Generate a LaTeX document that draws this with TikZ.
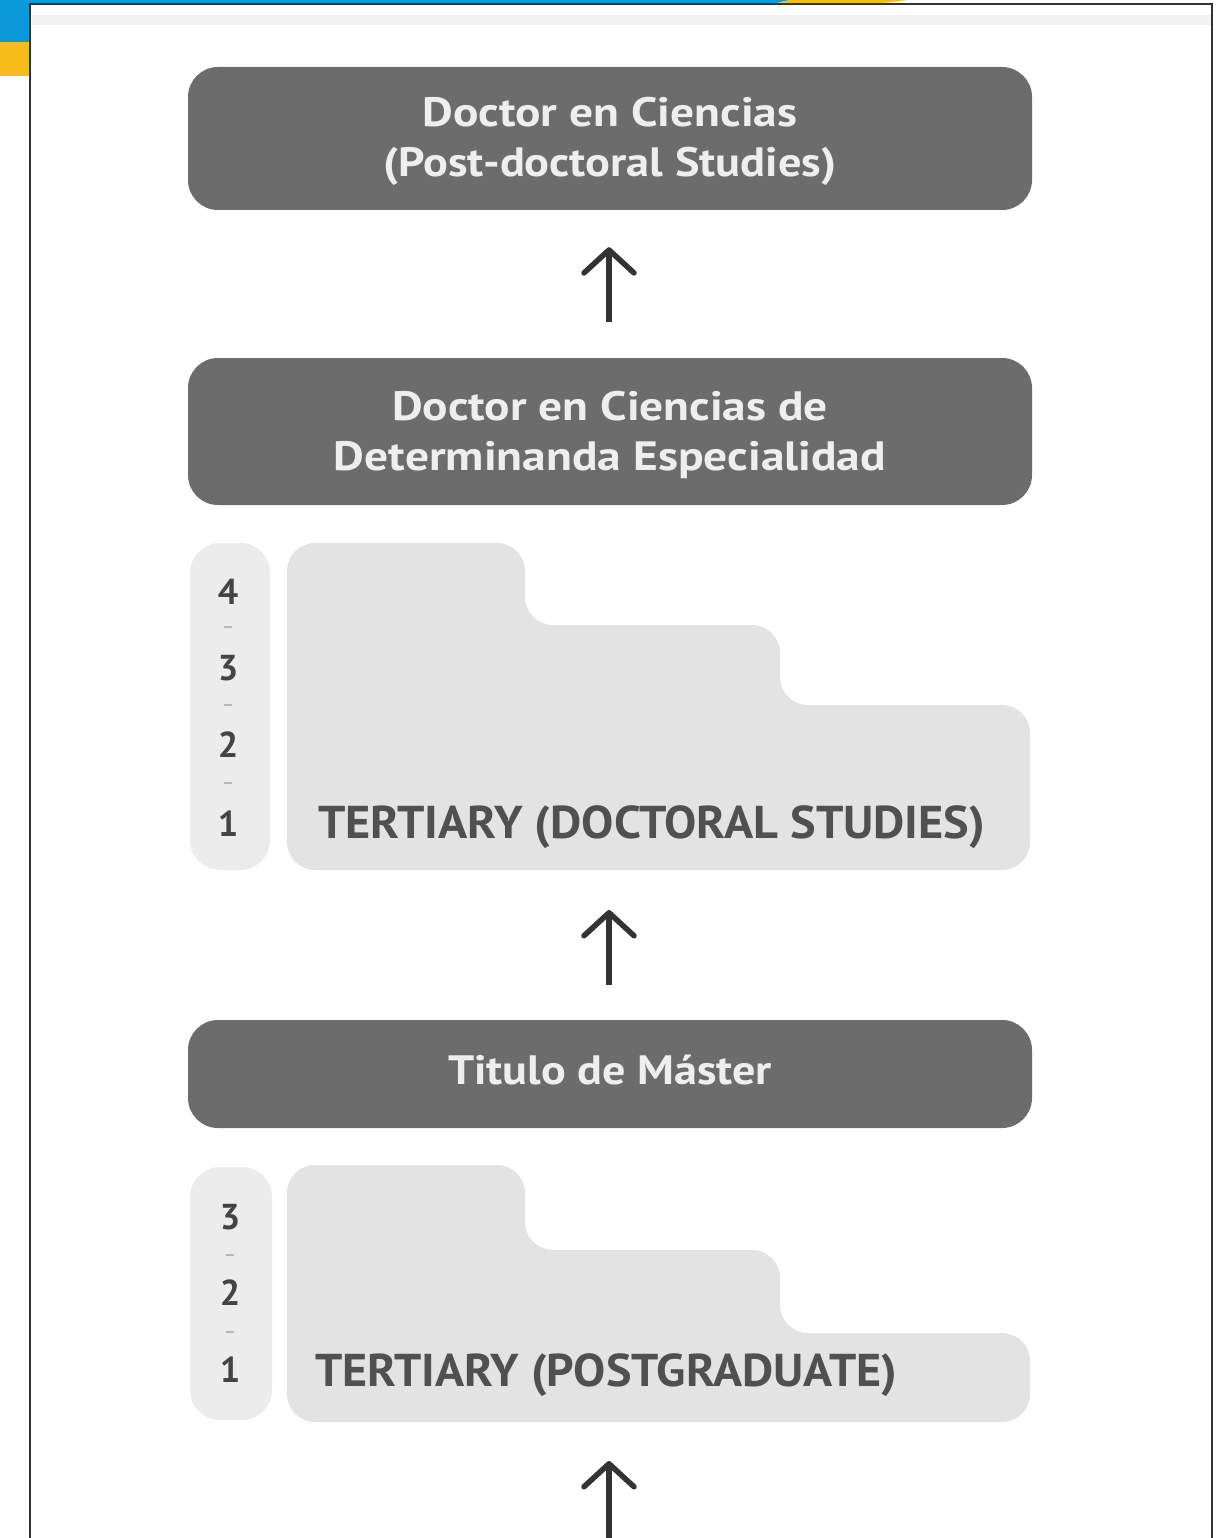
\documentclass[tikz,border=0pt]{standalone}
\usepackage{fontspec}
\setmainfont{PT Sans}
\usetikzlibrary{arrows.meta}
\definecolor{darkboxc}{HTML}{6C6C6C}
\definecolor{boxtextc}{HTML}{EEEEEE}
\definecolor{stepfillc}{HTML}{E3E3E3}
\definecolor{pillfillc}{HTML}{ECECEC}
\definecolor{steptextc}{HTML}{505050}
\definecolor{numtextc}{HTML}{444444}
\definecolor{dashc}{HTML}{B8B8B8}
\definecolor{arrowc}{HTML}{333333}
\definecolor{framec}{HTML}{333333}
\definecolor{bandc}{HTML}{F2F2F2}
\definecolor{frameblue}{HTML}{0A9BD8}
\definecolor{frameyellow}{HTML}{F6BD1A}
\newcommand{\fitw}[2]{\resizebox{#1}{\height}{#2}}
\tikzset{
  darkbox/.style={fill=darkboxc, rounded corners=30pt, minimum width=844pt, inner sep=0pt},
  boxtext/.style={inner sep=0pt, text=boxtextc, font=\bfseries\fontsize{41}{50}\selectfont, align=center},
  tert/.style={text=steptextc, inner sep=0pt, font=\bfseries\fontsize{46}{46}\selectfont},
  num/.style={text=numtextc, inner sep=0pt, font=\bfseries\fontsize{36}{36}\selectfont},
  stepshape/.style={fill=stepfillc, rounded corners=28pt},
  pill/.style={fill=pillfillc, rounded corners=30pt},
  yeardash/.style={draw=dashc, line width=2pt},
  uparrow/.style={draw=arrowc, line width=5.5pt, -{Straight Barb[length=23pt,width=50pt,round]}}
}
\begin{document}
\begin{tikzpicture}[x=1pt,y=-1pt]
\useasboundingbox (0,0) rectangle (1229,1538);
\fill[white] (0,0) rectangle (1229,1538);
% top-left decoration
\fill[frameblue] (0,0) rectangle (30,42);
\fill[frameyellow] (0,42) rectangle (30,76);
\fill[frameblue] (0,0) -- (790,0) -- (775,3.5) -- (0,3.5) -- cycle;
\fill[frameyellow] (790,0) -- (908,0) -- (880,3.5) -- (775,3.5) -- cycle;
% frame
\fill[bandc] (31.5,15) rectangle (1210.5,25);
\draw[framec, line width=2.5pt] (30,1540) -- (30,4) -- (1212,4) -- (1212,1540);

% dark boxes
\node[darkbox, minimum height=143pt] (b1) at (610,138.5) {};
\node[boxtext, yshift=-3pt] (b1t) at (b1)
  {\fitw{375pt}{Doctor en Ciencias}\\\fitw{453pt}{(Post-doctoral Studies)}};
\node[darkbox, minimum height=147pt] (b2) at (610,431.5) {};
\node[boxtext, yshift=-3pt] (b2t) at (b2)
  {\fitw{436pt}{Doctor en Ciencias de}\\\fitw{552pt}{Determinanda Especialidad}};
\node[darkbox, minimum height=108pt] (b3) at (610,1074) {};
\node[boxtext, yshift=4pt] (b3t) at (b3) {\fitw{324pt}{Titulo de Máster}};

% doctoral steps
\fill[pill] (190,543) rectangle (270,870);
\fill[stepshape] (287,870) -- (287,543) -- (525,543) -- (525,625) -- (780,625)
  -- (780,705) -- (1030,705) -- (1030,870) -- cycle;
\coordinate (s1b) at (609,870);
\node[num] (d4) at (228,592) {4};
\node[num] (d3) at (228,668) {3};
\node[num] (d2) at (228,745) {2};
\node[num] (d1) at (228,824) {1};
\draw[yeardash] (224,627) -- (232,627);
\draw[yeardash] (224,705) -- (232,705);
\draw[yeardash] (224,783) -- (232,783);
\node[tert, anchor=base west] (t1) at (318,838) {\fitw{667pt}{TERTIARY (DOCTORAL STUDIES)}};

% postgraduate steps
\fill[pill] (190,1167) rectangle (272,1420);
\fill[stepshape] (287,1422) -- (287,1165) -- (525,1165) -- (525,1250) -- (780,1250)
  -- (780,1333) -- (1030,1333) -- (1030,1422) -- cycle;
\coordinate (s2b) at (609,1422);
\coordinate (bot) at (609,1545);
\node[num] (p3) at (230,1217) {3};
\node[num] (p2) at (230,1293) {2};
\node[num] (p1) at (230,1370) {1};
\draw[yeardash] (226,1255) -- (234,1255);
\draw[yeardash] (226,1332) -- (234,1332);
\node[tert, anchor=base west] (t2) at (315,1386) {\fitw{582pt}{TERTIARY (POSTGRADUATE)}};

% arrows
\draw[uparrow, shorten <=36pt, shorten >=37pt] ([xshift=-1pt]b2.north) -- ([xshift=-1pt]b1.south);
\draw[uparrow, shorten <=35pt, shorten >=40pt] ([xshift=-1pt]b3.north) -- (s1b);
\draw[uparrow, shorten >=39pt] (bot) -- (s2b);
\end{tikzpicture}
\end{document}
